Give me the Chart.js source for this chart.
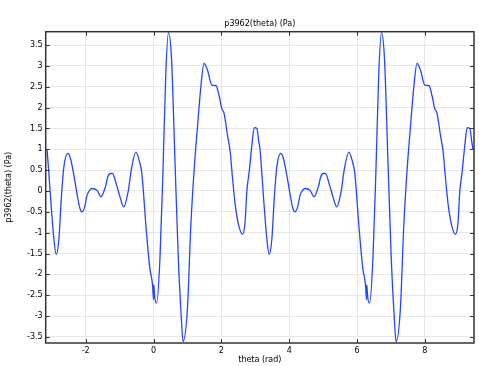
<!DOCTYPE html>
<html lang="en">

<head>
    <meta charset="UTF-8">
    <title>p3962(theta)</title>
    <script src="https://cdn.jsdelivr.net/npm/chart.js"></script>
    <style>
        body {
            margin: 0;
            padding: 0;
            background: #fff;
        }
    </style>
</head>

<body>
    <canvas id="pChart" width="479" height="366"></canvas>

    <script>
        // Values (theta in rad, pressure in Pa)
        const theta = [
            -3.14, -3.09, -3.02, -2.94, -2.87, -2.79, -2.72, -2.65, -2.53, -2.45,
            -2.35, -2.25, -2.17, -2.11, -2.03, -1.96, -1.88, -1.81, -1.66, -1.55,
            -1.42, -1.35, -1.27, -1.21, -1.09, -0.99, -0.88, -0.75, -0.65, -0.52,
            -0.40, -0.35, -0.21, -0.11, -0.03, 0.00, 0.01, 0.03, 0.09, 0.19,
            0.28, 0.36, 0.44, 0.53, 0.63, 0.73, 0.82, 0.87, 1.00, 1.10,
            1.20, 1.30, 1.40, 1.49, 1.59, 1.72, 1.84, 1.94, 2.01, 2.08,
            2.18, 2.26, 2.33, 2.41, 2.51, 2.62, 2.70, 2.75, 2.82, 2.90,
            2.97, 3.05, 3.10, 3.14,
            3.19, 3.26, 3.34, 3.41, 3.49, 3.56, 3.63, 3.75, 3.83, 3.93,
            4.03, 4.11, 4.17, 4.25, 4.32, 4.40, 4.47, 4.62, 4.73, 4.86,
            4.93, 5.01, 5.07, 5.19, 5.29, 5.40, 5.53, 5.63, 5.76, 5.88,
            5.93, 6.07, 6.17, 6.25, 6.28, 6.29, 6.31, 6.37, 6.47, 6.56,
            6.64, 6.72, 6.81, 6.91, 7.01, 7.10, 7.15, 7.28, 7.38, 7.48,
            7.58, 7.68, 7.77, 7.87, 8.00, 8.12, 8.22, 8.29, 8.36, 8.46,
            8.54, 8.61, 8.69, 8.79, 8.90, 8.98, 9.03, 9.10, 9.18, 9.25,
            9.33, 9.38, 9.42
        ];
        const p3962 = [
            1.00, 0.46, -0.34, -1.14, -1.52, -1.14, -0.18, 0.54, 0.90, 0.78,
            0.38, -0.10, -0.42, -0.50, -0.38, -0.10, 0.02, 0.06, 0.01, -0.14,
            0.10, 0.34, 0.42, 0.42, 0.14, -0.14, -0.38, -0.02, 0.54, 0.93,
            0.66, 0.46, -0.98, -1.85, -2.25, -2.61, -2.25, -2.50, -2.69, -1.61,
            0.54, 2.78, 3.80, 3.18, 0.78, -1.61, -3.05, -3.61, -2.81, -0.82,
            0.54, 1.58, 2.54, 3.06, 2.90, 2.54, 2.53, 2.26, 1.98, 1.86,
            1.34, 0.94, 0.30, -0.34, -0.82, -1.04, -0.74, -0.02, 0.46, 1.10,
            1.52, 1.50, 1.20, 1.00,
            0.46, -0.34, -1.14, -1.52, -1.14, -0.18, 0.54, 0.90, 0.78, 0.38,
            -0.10, -0.42, -0.50, -0.38, -0.10, 0.02, 0.06, 0.01, -0.14, 0.10,
            0.34, 0.42, 0.42, 0.14, -0.14, -0.38, -0.02, 0.54, 0.93, 0.66,
            0.46, -0.98, -1.85, -2.25, -2.61, -2.25, -2.50, -2.69, -1.61, 0.54,
            2.78, 3.80, 3.18, 0.78, -1.61, -3.05, -3.61, -2.81, -0.82, 0.54,
            1.58, 2.54, 3.06, 2.90, 2.54, 2.53, 2.26, 1.98, 1.86, 1.34,
            0.94, 0.30, -0.34, -0.82, -1.04, -0.74, -0.02, 0.46, 1.10, 1.52,
            1.50, 1.20, 1.00
        ];
        const xTicks = [-2, 0, 2, 4, 6, 8];
        const yTicks = [-3.5, -3, -2.5, -2, -1.5, -1, -0.5, 0, 0.5, 1, 1.5, 2, 2.5, 3, 3.5];

        const FONT = 'DejaVu Sans';

        // Frame with inward tick marks on all four sides, plus titles
        const framePlugin = {
            id: 'frame',
            afterDraw(chart) {
                const { ctx, chartArea: a, scales } = chart;
                ctx.save();
                ctx.strokeStyle = '#333';
                ctx.lineWidth = 1;
                ctx.beginPath();
                xTicks.forEach(v => {
                    const px = Math.round(scales.x.getPixelForValue(v)) + 0.5;
                    ctx.moveTo(px, a.bottom); ctx.lineTo(px, a.bottom - 4);
                    ctx.moveTo(px, a.top); ctx.lineTo(px, a.top + 4);
                });
                yTicks.forEach(v => {
                    const py = Math.round(scales.y.getPixelForValue(v)) + 0.5;
                    ctx.moveTo(a.left, py); ctx.lineTo(a.left + 4, py);
                    ctx.moveTo(a.right, py); ctx.lineTo(a.right - 4, py);
                });
                ctx.stroke();
                ctx.lineWidth = 1.5;
                ctx.strokeRect(a.left, a.top, a.right - a.left, a.bottom - a.top);

                ctx.fillStyle = '#000';
                ctx.font = '8px "' + FONT + '"';
                ctx.textAlign = 'center';
                ctx.textBaseline = 'middle';
                const cx = (a.left + a.right) / 2;
                ctx.fillText('p3962(theta) (Pa)', cx, 23.5);
                ctx.fillText('theta (rad)', cx, 360);
                ctx.translate(9, (a.top + a.bottom) / 2);
                ctx.rotate(-Math.PI / 2);
                ctx.fillText('p3962(theta) (Pa)', 0, 0);
                ctx.restore();
            }
        };

        const ctx = document.getElementById('pChart').getContext('2d');
        const pChart = new Chart(ctx, {
            type: 'line',
            data: {
                datasets: [{
                    data: theta.map((t, i) => ({ x: t, y: p3962[i] })),
                    borderColor: '#2445ff',
                    borderWidth: 1.3,
                    pointRadius: 0,
                    fill: false,
                    cubicInterpolationMode: 'monotone',
                }],
            },
            options: {
                responsive: false,
                animation: false,
                layout: {
                    padding: { top: 31.7, right: 5, left: 0, bottom: 0 },
                },
                plugins: {
                    legend: { display: false },
                    tooltip: { enabled: false },
                },
                scales: {
                    x: {
                        type: 'linear',
                        min: -3.18,
                        max: 9.45,
                        afterBuildTicks: s => { s.ticks = xTicks.map(v => ({ value: v })); },
                        afterFit: s => { s.height = 23; },
                        grid: { color: '#e6e6e6', drawTicks: false },
                        border: { display: false },
                        ticks: {
                            padding: 3,
                            color: '#000',
                            font: { family: FONT, size: 8 },
                            maxRotation: 0,
                            callback: v => String(v),
                        },
                    },
                    y: {
                        type: 'linear',
                        min: -3.645,
                        max: 3.82,
                        afterBuildTicks: s => { s.ticks = yTicks.map(v => ({ value: v })); },
                        afterFit: s => { s.width = 45.7; },
                        grid: { color: '#e6e6e6', drawTicks: false },
                        border: { display: false },
                        ticks: {
                            padding: 3,
                            color: '#000',
                            font: { family: FONT, size: 8 },
                            callback: v => String(v),
                        },
                    },
                },
            },
            plugins: [framePlugin],
        });
    </script>
</body>

</html>
